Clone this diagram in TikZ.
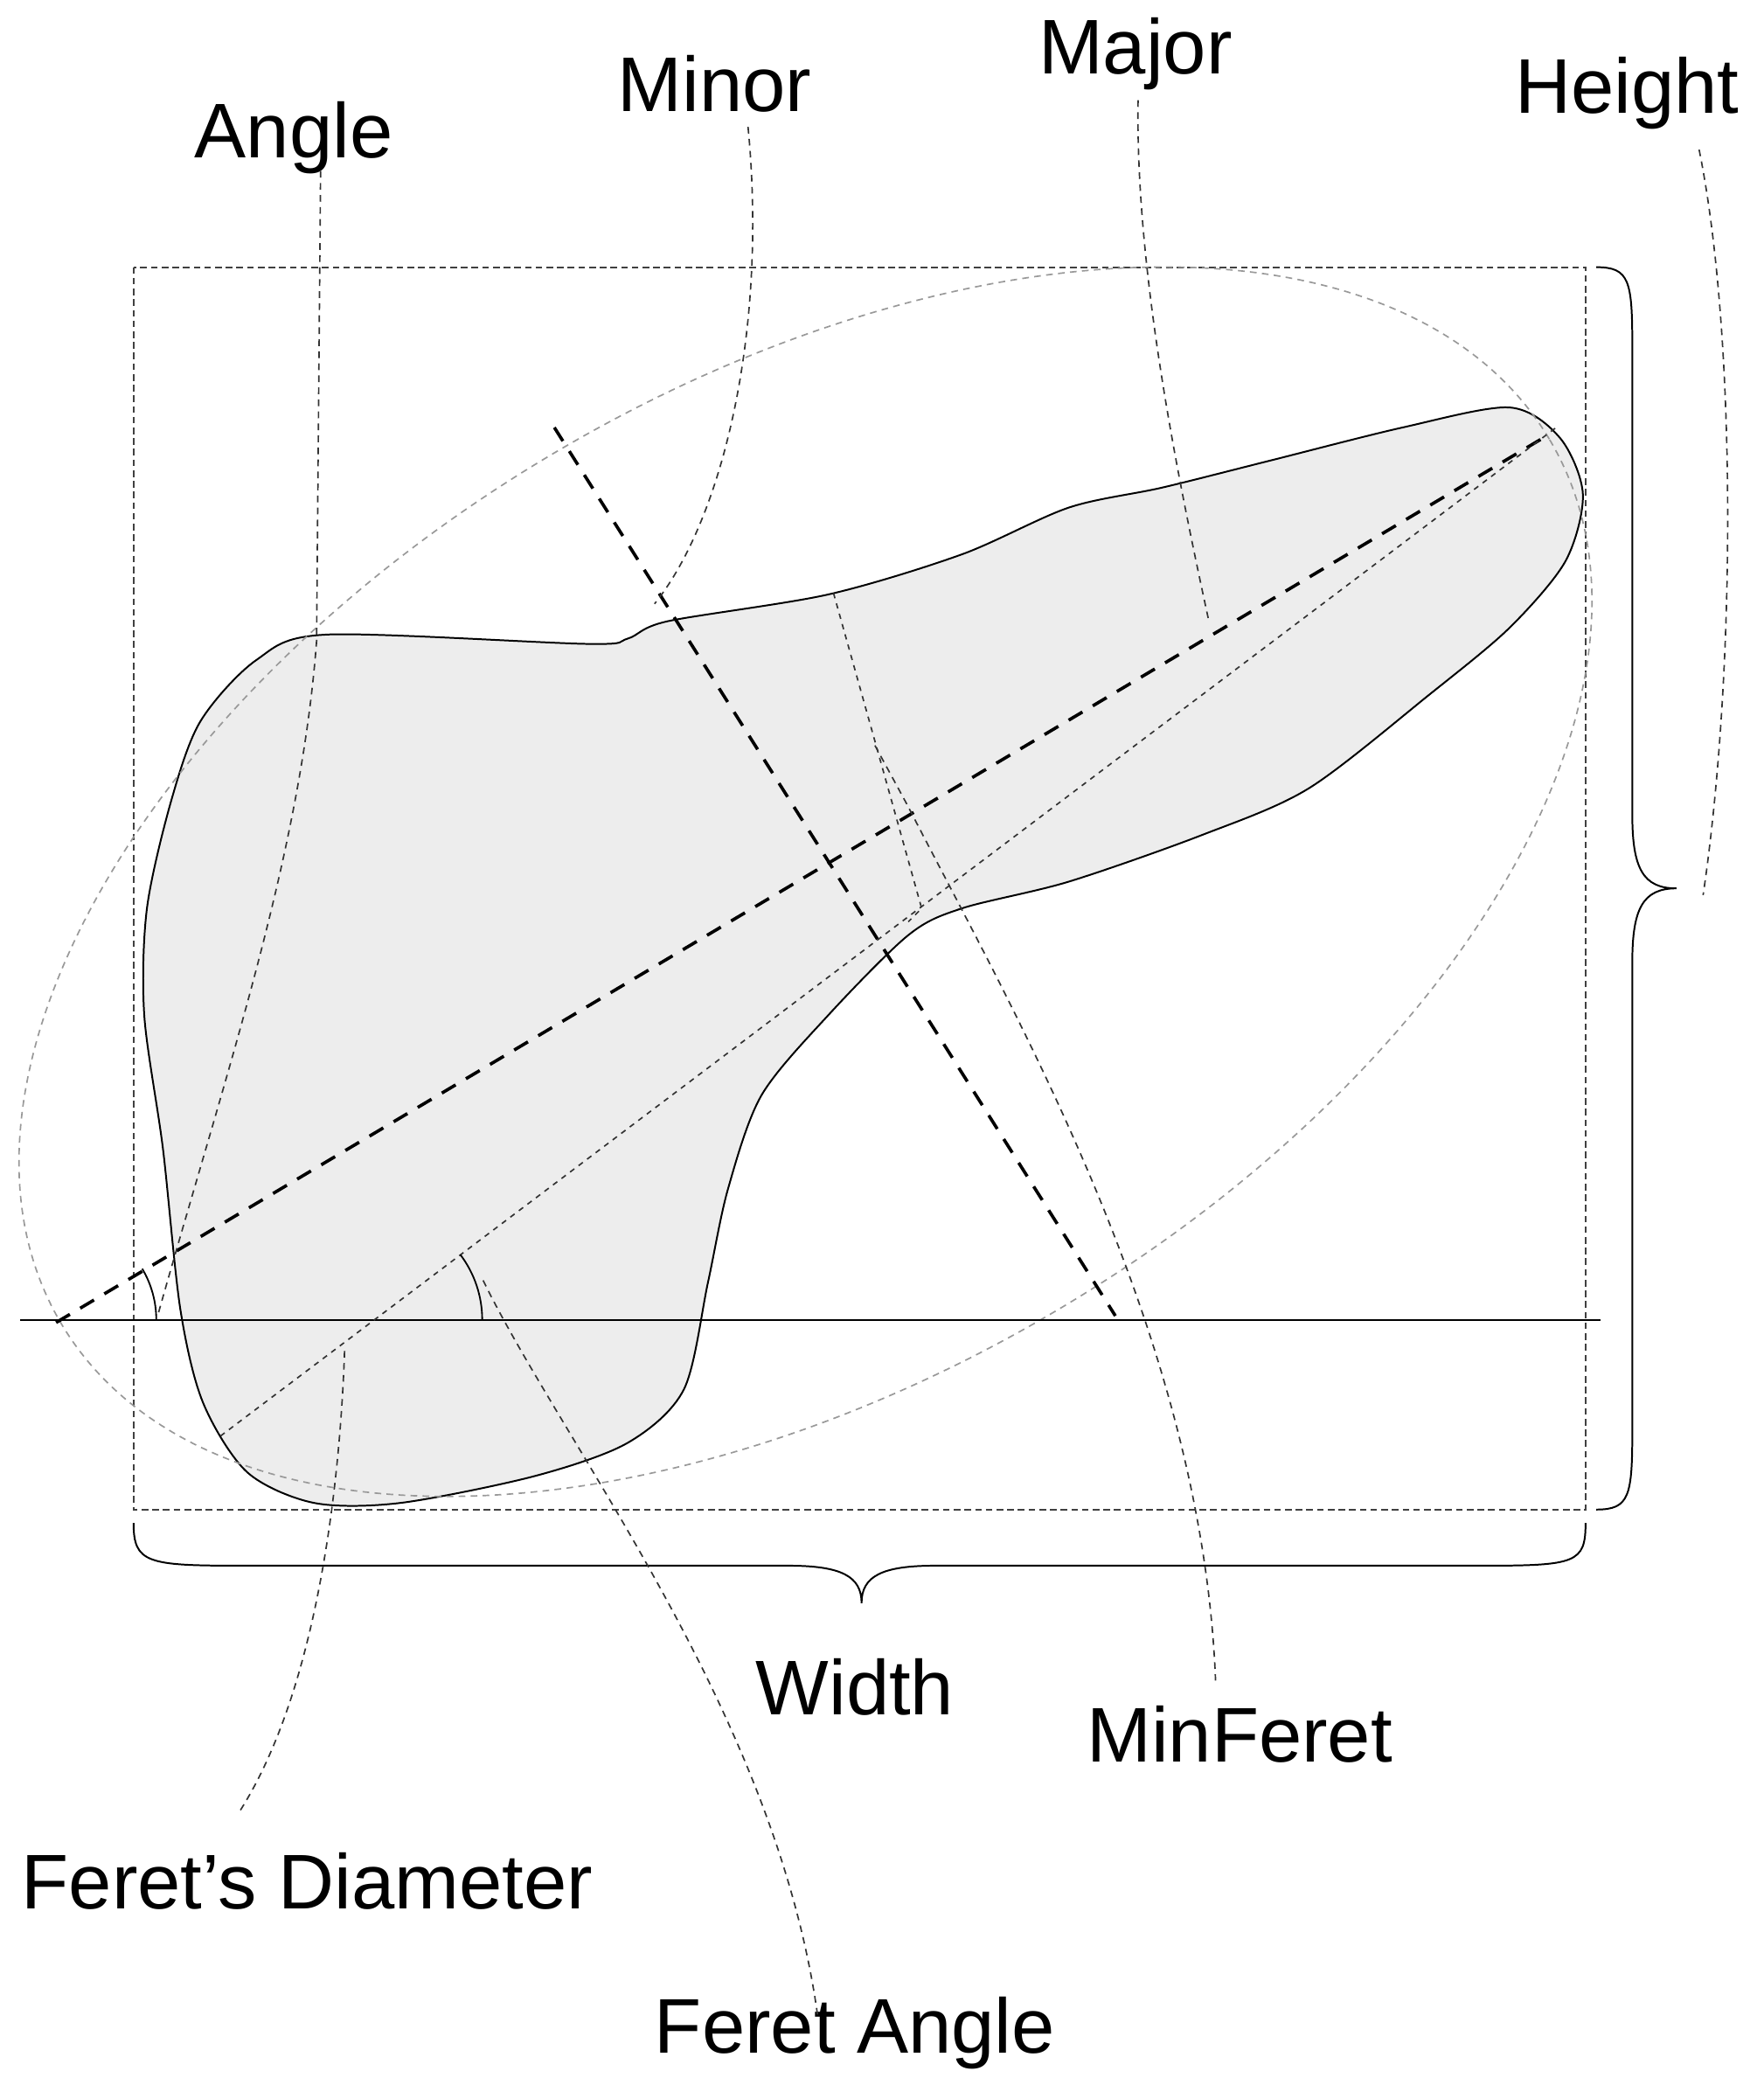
\documentclass[tikz,border=0pt]{standalone}
\usepackage{fontspec}
\setmainfont{Liberation Sans}
\begin{document}
\begin{tikzpicture}[x=1pt,y=-1pt,
  lbl/.style={font=\fontsize{58}{62}\selectfont, inner sep=0pt},
  lead/.style={draw=black!80, line width=1.1pt, dash pattern=on 5pt off 4pt},
  thin/.style={draw=black!80, line width=1.1pt, dash pattern=on 4pt off 4pt}]
\useasboundingbox (0,0) rectangle (1320,1566);
% blob
\draw[fill=black!7, line width=1.3pt] plot[smooth cycle, tension=0.5] coordinates {
(150,540)(192,494)(245,475)(440,482)(470,478)(500,465)(620,445)(720,415)(800,380)(870,365)(950,345)(1050,320)(1130,305)(1168,328)(1185,370)(1172,420)(1130,470)(1070,520)(980,590)(900,625)(800,660)(720,680)(680,700)(620,760)(570,820)(545,890)(530,960)(512,1040)(470,1080)(400,1105)(300,1125)(235,1125)(185,1102)(152,1050)(135,980)(122,860)(108,760)(110,680)(128,600)};
% bounding rectangle
\draw[line width=1.3pt, dash pattern=on 5pt off 3pt, black!75] (100,200) rectangle (1187,1130);
% ellipse
\draw[black!40, line width=1.1pt, dash pattern=on 5pt off 4pt] (603,660) ellipse[x radius=648, y radius=372, rotate=30.7];
% horizontal line
\draw[line width=1.3pt] (15,988) coordinate (h1) -- (1198,988) coordinate (h2);
% major / minor axes
\coordinate (ma1) at (42,990); \coordinate (ma2) at (1160,325);
\coordinate (mi1) at (415,320); \coordinate (mi2) at (835,985);
\draw[line width=2.4pt, dash pattern=on 12pt off 9pt] (ma1) -- (ma2);
\draw[line width=2.4pt, dash pattern=on 12pt off 9pt] (mi1) -- (mi2);
% feret diameter
\coordinate (f1) at (165,1075); \coordinate (f2) at (1165,320);
\draw[thin] (f1) -- (f2);
% min feret caliper
\coordinate (mf1) at (624,444); \coordinate (mf2) at (690,680);
\draw[thin] (mf1) -- (mf2) -- (680,690);
% angle arcs
\draw[line width=1.2pt] (117,988) arc[start angle=0, end angle=-30.7, radius=75];
\draw[line width=1.2pt] (361,988) arc[start angle=0, end angle=-37, radius=81];
% braces
\draw[line width=1.3pt] (100,1140) .. controls (100,1170) and (110,1172) .. (180,1172) -- (590,1172) .. controls (630,1172) and (645,1180) .. (645,1200)
  .. controls (645,1180) and (660,1172) .. (700,1172) -- (1110,1172) .. controls (1180,1172) and (1187,1170) .. (1187,1140);
\draw[line width=1.3pt] (1195,200) .. controls (1220,200) and (1222,210) .. (1222,260) -- (1222,610) .. controls (1222,650) and (1230,665) .. (1255,665)
  .. controls (1230,665) and (1222,680) .. (1222,720) -- (1222,1070) .. controls (1222,1120) and (1220,1130) .. (1195,1130);
% labels
\node[lbl] (angle) at (220,103) {Angle};
\node[lbl] (minor) at (535,63) {Minor};
\node[lbl] (major) at (850,40) {Major};
\node[lbl] (height) at (1218,70) {Height};
\node[lbl] (width) at (640,1263) {Width};
\node[lbl] (minferet) at (928,1298) {MinFeret};
\node[lbl] (fd) at (230,1408) {Feret’s Diameter};
\node[lbl] (fa) at (640,1522) {Feret Angle};
% leaders
\draw[lead] (240,128) -- (237,480) .. controls (225,640) and (170,800) .. (118,985);
\draw[lead] (560,95) .. controls (575,250) and (540,390) .. (490,452);
\draw[lead] (852,75) .. controls (850,200) and (880,350) .. (905,465);
\draw[lead] (1272,112) .. controls (1300,250) and (1300,500) .. (1275,670);
\draw[lead] (655,558) -- (680,604) .. controls (760,760) and (900,1000) .. (910,1258);
\draw[lead] (180,1355) .. controls (240,1260) and (255,1100) .. (258,1010);
\draw[lead] (612,1508) .. controls (580,1280) and (420,1080) .. (360,955);
\end{tikzpicture}
\end{document}
